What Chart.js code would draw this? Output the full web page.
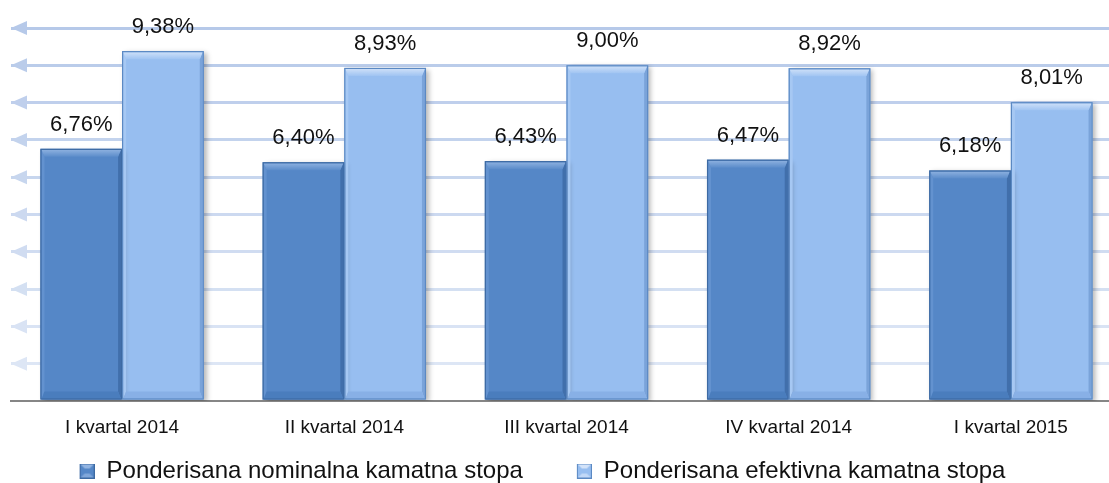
<!DOCTYPE html>
<html>
<head>
<meta charset="utf-8">
<script src="https://cdn.jsdelivr.net/npm/chart.js@4.4.1/dist/chart.umd.min.js"></script>
<style>
html,body{margin:0;padding:0;overflow:hidden;background:#fff;width:1109px;height:483px;}
#wrap{position:absolute;left:-81px;top:0;width:1203px;height:483px;}
</style>
</head>
<body>
<div id="wrap"><canvas id="c"></canvas></div>
<script>
const categories = ['I kvartal 2014', 'II kvartal 2014', 'III kvartal 2014', 'IV kvartal 2014', 'I kvartal 2015'];
const nominalna = [6.76, 6.40, 6.43, 6.47, 6.18];
const efektivna = [9.38, 8.93, 9.00, 8.92, 8.01];
const seriesNames = ['Ponderisana nominalna kamatna stopa', 'Ponderisana efektivna kamatna stopa'];
const yMin = 0, yMax = 10, yStep = 1;

const FONT = "'Liberation Sans', Arial, sans-serif";
const styles = [
  {fill:'#5587c7', border:'#3d6aa3', topA:'#93b5e2', topB:'#5b8cca', right:'#416fab', left:'#6392cf', bottom:'#4a7dbd'},
  {fill:'#97bef0', border:'#5b89c3', topA:'#d3e3f9', topB:'#a0c4f2', right:'#7aa3d9', left:'#a6c8f3', bottom:'#88b0e6'}
];

const ICON_BOX = 59;   // legend slot width; square drawn at its right end
function legendIcon(s){
  const c = document.createElement('canvas');
  c.width = ICON_BOX; c.height = 15;
  const g = c.getContext('2d');
  g.translate(ICON_BOX - 15, 0);
  g.fillStyle = s.fill; g.fillRect(0,0,15,15);
  g.fillStyle = s.topA;
  g.beginPath(); g.moveTo(0,0); g.lineTo(15,0); g.lineTo(10,5); g.lineTo(5,5); g.closePath(); g.fill();
  g.fillStyle = s.topA;
  g.globalAlpha = 0.7;
  g.beginPath(); g.moveTo(0,15); g.lineTo(15,15); g.lineTo(10,10); g.lineTo(5,10); g.closePath(); g.fill();
  g.globalAlpha = 1;
  g.strokeStyle = s.border; g.lineWidth = 1; g.strokeRect(0.5,0.5,14,14);
  return c;
}

function gridColor(v){
  if (v <= 0) return 'rgba(0,0,0,0)';
  const t = (v - 1) / 9;
  const a = [221,230,245], b = [182,201,233];
  const c = a.map((x,i)=>Math.round(x + (b[i]-x)*t));
  return 'rgb(' + c.join(',') + ')';
}

const PAD_BOTTOM = -10;
const CHART_BOTTOM = 401;

const arrowPlugin = {
  id: 'arrows',
  beforeDatasetsDraw(chart){
    const y = chart.scales.y, ctx = chart.ctx, L = chart.chartArea.left;
    ctx.save();
    y.ticks.forEach(t => {
      if (t.value <= 0) return;
      const py = y.getPixelForValue(t.value);
      ctx.fillStyle = gridColor(t.value);
      ctx.beginPath();
      ctx.moveTo(L, py);
      ctx.lineTo(L + 16, py - 7);
      ctx.lineTo(L + 16, py + 7);
      ctx.closePath();
      ctx.fill();
    });
    ctx.restore();
  }
};

const shadowPlugin = {
  id: 'shadow',
  beforeDatasetDraw(chart){
    const ctx = chart.ctx;
    ctx.save();
    ctx.shadowColor = 'rgba(0,0,0,0.28)';
    ctx.shadowBlur = 5;
    ctx.shadowOffsetX = 3;
    ctx.shadowOffsetY = 2;
  },
  afterDatasetDraw(chart){ chart.ctx.restore(); }
};

const bevelPlugin = {
  id: 'bevel',
  afterDatasetsDraw(chart){
    const ctx = chart.ctx;
    chart.data.datasets.forEach((ds, di) => {
      const s = styles[di];
      chart.getDatasetMeta(di).data.forEach(el => {
        const p = el.getProps(['x','y','base','width'], true);
        const l = p.x - p.width/2, r = p.x + p.width/2, t = p.y, b = p.base;
        const bv = 8, sd = 3;
        ctx.save();
        ctx.fillStyle = s.left;
        ctx.beginPath(); ctx.moveTo(l+1,t); ctx.lineTo(l+1+sd,t+bv); ctx.lineTo(l+1+sd,b-bv); ctx.lineTo(l+1,b); ctx.closePath(); ctx.fill();
        ctx.fillStyle = s.right;
        ctx.beginPath(); ctx.moveTo(r-1,t); ctx.lineTo(r-1-sd,t+bv); ctx.lineTo(r-1-sd,b-bv); ctx.lineTo(r-1,b); ctx.closePath(); ctx.fill();
        ctx.fillStyle = s.bottom;
        ctx.beginPath(); ctx.moveTo(l+1,b); ctx.lineTo(r-1,b); ctx.lineTo(r-1-sd,b-bv); ctx.lineTo(l+1+sd,b-bv); ctx.closePath(); ctx.fill();
        const g = ctx.createLinearGradient(0,t,0,t+bv);
        g.addColorStop(0, s.topA); g.addColorStop(1, s.topB);
        ctx.fillStyle = g;
        ctx.beginPath(); ctx.moveTo(l+1,t+1); ctx.lineTo(r-1,t+1); ctx.lineTo(r-1-sd,t+bv); ctx.lineTo(l+1+sd,t+bv); ctx.closePath(); ctx.fill();
        ctx.strokeStyle = s.border; ctx.lineWidth = 1.2;
        ctx.strokeRect(l+0.5, t+0.5, p.width-1, b-t-1);
        ctx.restore();
      });
    });
  }
};

const labelPlugin = {
  id: 'valueLabels',
  afterDatasetsDraw(chart){
    const ctx = chart.ctx;
    ctx.save();
    ctx.font = '22px ' + FONT;
    ctx.fillStyle = '#111';
    ctx.textAlign = 'center';
    ctx.textBaseline = 'alphabetic';
    chart.data.datasets.forEach((ds, di) => {
      chart.getDatasetMeta(di).data.forEach((el, i) => {
        const v = ds.data[i];
        const txt = v.toFixed(2).replace('.', ',') + '%';
        ctx.fillText(txt, el.x, el.y - 18);
      });
    });
    ctx.restore();
  }
};

new Chart(document.getElementById('c'), {
  type: 'bar',
  data: {
    labels: categories,
    datasets: [
      {label: seriesNames[0], data: nominalna, backgroundColor: styles[0].fill, borderWidth: 0, pointStyle: legendIcon(styles[0])},
      {label: seriesNames[1], data: efektivna, backgroundColor: styles[1].fill, borderWidth: 0, pointStyle: legendIcon(styles[1])}
    ]
  },
  options: {
    responsive: true,
    maintainAspectRatio: false,
    animation: false,
    layout: {padding: {top: 28, left: 0, right: 0, bottom: PAD_BOTTOM}},
    datasets: {bar: {categoryPercentage: 0.735, barPercentage: 1.0}},
    plugins: {
      tooltip: {enabled: false},
      legend: {
        position: 'bottom',
        labels: {
          usePointStyle: true,
          pointStyleWidth: ICON_BOX,
          boxHeight: 15,
          padding: 10,
          color: '#111',
          font: {family: FONT, size: 24}
        }
      }
    },
    scales: {
      x: {
        grid: {display: false, drawTicks: false},
        border: {display: true, color: '#868686', width: 2},
        ticks: {color: '#111', font: {family: FONT, size: 19}, padding: 15, maxRotation: 0, autoSkip: false},
        afterFit(s){ s.height = Math.max(0, (s.chart.height - PAD_BOTTOM) - s.chart.legend.height - CHART_BOTTOM); }
      },
      y: {
        min: yMin, max: yMax,
        ticks: {display: false, stepSize: yStep},
        grid: {drawTicks: false, lineWidth: 3, color: ctx => gridColor(ctx.tick ? ctx.tick.value : 0)},
        border: {display: false},
        afterFit(s){ s.width = 92; }
      }
    }
  },
  plugins: [arrowPlugin, shadowPlugin, bevelPlugin, labelPlugin]
});
</script>
</body>
</html>
